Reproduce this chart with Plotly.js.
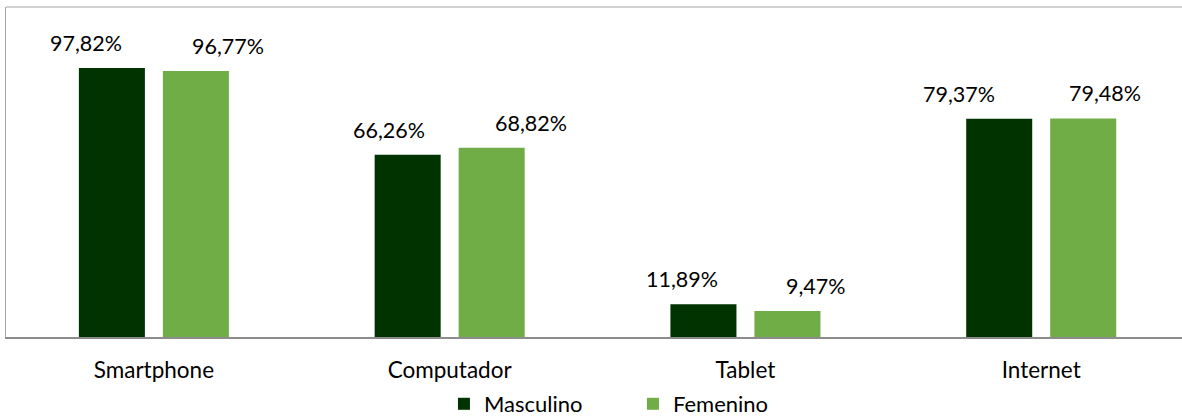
<!DOCTYPE html>
<html>
<head>
<meta charset="utf-8">
<script src="https://cdn.plot.ly/plotly-3.0.1.min.js"></script>
<style>html,body{margin:0;padding:0;background:#fff;}#chart{width:1182px;height:419px;}</style>
</head>
<body>
<div id="chart"></div>
<script>
const categories = ['Smartphone', 'Computador', 'Tablet', 'Internet'];
const masculino = [97.82, 66.26, 11.89, 79.37];
const femenino = [96.77, 68.82, 9.47, 79.48];
const seriesNames = ['Masculino', 'Femenino'];

// label placement (pixels, relative to category centre)
const mascLabelShift = [-68, -61, -63.5, -82.5];
const femLabelShift = [74, 81.5, 71, 63.5];

const fmt = v => v.toFixed(2).replace('.', ',') + '%';
const FONT = 'Lato, "Open Sans", sans-serif';

const traces = [
  {type: 'bar', name: seriesNames[0], x: categories, y: masculino,
   marker: {color: '#003300', line: {width: 0}}, hoverinfo: 'none'},
  {type: 'bar', name: seriesNames[1], x: categories, y: femenino,
   marker: {color: '#70AD47', line: {width: 0}}, hoverinfo: 'none'}
];

const annotations = [];
categories.forEach((c, i) => {
  annotations.push({x: c, y: masculino[i], xref: 'x', yref: 'y', text: fmt(masculino[i]),
    showarrow: false, xshift: mascLabelShift[i], yshift: 25, yanchor: 'middle',
    font: {family: FONT, size: 21.5, color: '#000'}});
  annotations.push({x: c, y: femenino[i], xref: 'x', yref: 'y', text: fmt(femenino[i]),
    showarrow: false, xshift: femLabelShift[i], yshift: 25, yanchor: 'middle',
    font: {family: FONT, size: 21.5, color: '#000'}});
});

const layout = {
  width: 1182, height: 419,
  margin: {l: 6, r: 0, t: 7, b: 82, pad: 0, autoexpand: false},
  paper_bgcolor: '#fff', plot_bgcolor: '#fff',
  barmode: 'group', bargap: 0.432, bargroupgap: 0.214,
  font: {family: FONT, size: 21, color: '#000'},
  xaxis: {type: 'category', range: [-0.5, 3.476], showgrid: false, zeroline: false,
    showline: true, linecolor: '#8c8c8c', linewidth: 2, ticks: '', automargin: false,
    tickfont: {family: FONT, size: 22.5, color: '#000'}, ticklabelstandoff: 12},
  yaxis: {range: [0, 120], showgrid: false, zeroline: false, showticklabels: false,
    showline: true, linecolor: '#a6a6a6', linewidth: 1, ticks: '', automargin: false},
  showlegend: true,
  legend: {orientation: 'h', x: 0.3724, xanchor: 'left', y: -0.203, yanchor: 'middle',
    font: {family: FONT, size: 22, color: '#000'}, entrywidth: 144, entrywidthmode: 'pixels',
    bgcolor: 'rgba(0,0,0,0)'},
  shapes: [{type: 'line', xref: 'paper', yref: 'paper', x0: 0, x1: 1, y0: 1, y1: 1,
    line: {color: '#a6a6a6', width: 1}}],
  annotations: annotations
};

Plotly.newPlot('chart', traces, layout, {displayModeBar: false, staticPlot: true});
</script>
</body>
</html>
